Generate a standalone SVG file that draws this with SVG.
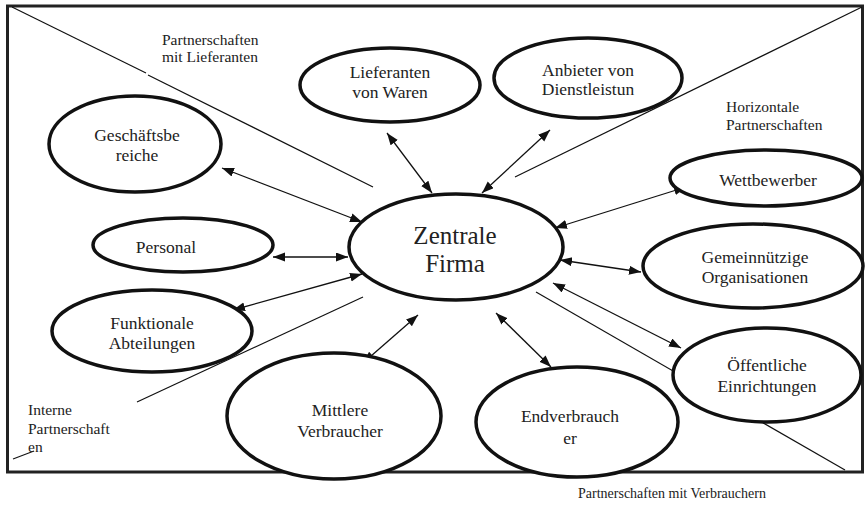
<svg xmlns="http://www.w3.org/2000/svg" width="866" height="507" viewBox="0 0 866 507">
<style>
.n{fill:#fff;stroke:#111;stroke-width:3.5}
.t{font-family:"Liberation Serif","Times New Roman",serif;font-size:17.5px;fill:#222;text-anchor:middle}
.l{font-family:"Liberation Serif","Times New Roman",serif;font-size:15.5px;fill:#222}
.z{font-size:25px}
.d{stroke:#111;stroke-width:1.2;fill:none}
.a{stroke:#111;stroke-width:1.3;fill:none;marker-start:url(#ah);marker-end:url(#ah)}
</style>
<defs>
<marker id="ah" markerUnits="userSpaceOnUse" markerWidth="13" markerHeight="10" refX="12" refY="4.5" orient="auto-start-reverse">
<path d="M0,0 L12,4.5 L0,9 z" fill="#111"/>
</marker>
</defs>
<rect width="866" height="507" fill="#fff"/>
<rect x="7.5" y="6" width="855" height="466" fill="none" stroke="#222" stroke-width="3"/>
<g id="dividers">
<line class="d" x1="12" y1="7" x2="146" y2="73"/>
<line class="d" x1="148" y1="75" x2="373" y2="187"/>
<line class="d" x1="862" y1="7" x2="515" y2="177"/>
<line class="d" x1="363" y1="297" x2="137" y2="402"/>
<line class="d" x1="536" y1="292" x2="845" y2="470"/>
<line class="d" x1="13" y1="459" x2="34" y2="451"/>
</g>
<g id="connectors">
<line class="a" x1="222" y1="168" x2="362" y2="222"/>
<line class="a" x1="387" y1="133" x2="432" y2="193"/>
<line class="a" x1="550" y1="130" x2="482" y2="193"/>
<line class="a" x1="686" y1="187" x2="555" y2="228"/>
<line class="a" x1="273" y1="257" x2="348" y2="257"/>
<line class="a" x1="233" y1="310" x2="362" y2="274"/>
<line class="a" x1="560" y1="260" x2="641" y2="272"/>
<line class="a" x1="553" y1="283" x2="681" y2="348"/>
<line class="a" x1="418" y1="315" x2="363" y2="363"/>
<line class="a" x1="496" y1="313" x2="551" y2="367"/>
</g>
<g id="lieferanten"><ellipse class="n" cx="390" cy="85" rx="90" ry="37"/><text class="t" x="390" y="78">Lieferanten</text><text class="t" x="390" y="98">von Waren</text></g>
<g id="anbieter"><ellipse class="n" cx="588" cy="78" rx="94" ry="40"/><text class="t" x="588" y="76">Anbieter von</text><text class="t" x="588" y="95">Dienstleistun</text></g>
<g id="geschaeftsbereiche"><ellipse class="n" cx="135" cy="144" rx="86" ry="48"/><text class="t" x="137" y="141">Geschäftsbe</text><text class="t" x="137" y="161">reiche</text></g>
<g id="wettbewerber"><ellipse class="n" cx="766" cy="178" rx="96" ry="28"/><text class="t" x="768" y="186">Wettbewerber</text></g>
<g id="personal"><ellipse class="n" cx="183" cy="245" rx="90" ry="27"/><text class="t" x="166" y="253">Personal</text></g>
<g id="zentrale"><ellipse class="n" cx="456" cy="247" rx="107" ry="53"/><text class="t z" x="455" y="244">Zentrale</text><text class="t z" x="455" y="272">Firma</text></g>
<g id="funktionale"><ellipse class="n" cx="152" cy="331" rx="100" ry="41"/><text class="t" x="152" y="329">Funktionale</text><text class="t" x="152" y="349">Abteilungen</text></g>
<g id="gemeinnuetzige"><ellipse class="n" cx="753" cy="266" rx="110" ry="42"/><text class="t" x="755" y="263">Gemeinnützige</text><text class="t" x="755" y="283">Organisationen</text></g>
<g id="oeffentliche"><ellipse class="n" cx="767" cy="375" rx="94" ry="47"/><text class="t" x="767" y="371">Öffentliche</text><text class="t" x="767" y="392">Einrichtungen</text></g>
<g id="mittlere"><ellipse class="n" cx="334" cy="416" rx="107" ry="63"/><text class="t" x="340" y="416">Mittlere</text><text class="t" x="340" y="437">Verbraucher</text></g>
<g id="endverbraucher"><ellipse class="n" cx="577" cy="422" rx="101" ry="55"/><text class="t" x="570" y="422">Endverbrauch</text><text class="t" x="570" y="444">er</text></g>
<g id="labels">
<text class="l" x="162" y="45">Partnerschaften</text>
<text class="l" x="162" y="62">mit Lieferanten</text>
<text class="l" x="726" y="112">Horizontale</text>
<text class="l" x="726" y="130">Partnerschaften</text>
<text class="l" x="28" y="415">Interne</text>
<text class="l" x="28" y="434">Partnerschaft</text>
<text class="l" x="28" y="452">en</text>
<text class="l" x="578" y="498" style="font-size:14px">Partnerschaften mit Verbrauchern</text>
</g>
</svg>
